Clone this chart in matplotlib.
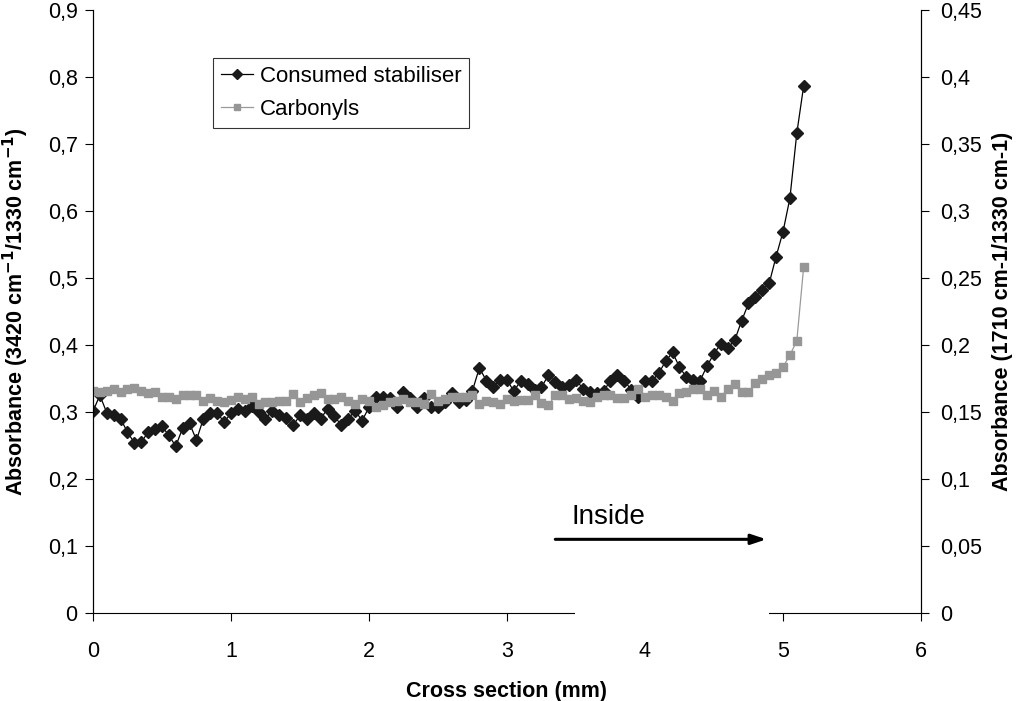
import numpy as np
import matplotlib
matplotlib.use("Agg")
import matplotlib.pyplot as plt
from matplotlib.patches import Rectangle
from matplotlib.ticker import FuncFormatter

plt.rcParams['font.family'] = ['Liberation Sans', 'DejaVu Sans']

# Consumed stabiliser (left axis), one value every 0.05 mm
stabiliser = [0.301, 0.325, 0.299, 0.295, 0.290, 0.270, 0.254, 0.255, 0.270, 0.274,
              0.279, 0.265, 0.249, 0.276, 0.283, 0.258, 0.290, 0.299, 0.299, 0.285,
              0.298, 0.305, 0.301, 0.309, 0.300, 0.290, 0.302, 0.295, 0.291, 0.280,
              0.295, 0.290, 0.298, 0.290, 0.305, 0.294, 0.280, 0.290, 0.302, 0.287,
              0.307, 0.323, 0.323, 0.321, 0.307, 0.330, 0.321, 0.307, 0.321, 0.307,
              0.307, 0.315, 0.328, 0.315, 0.318, 0.332, 0.366, 0.347, 0.337, 0.348,
              0.348, 0.331, 0.347, 0.342, 0.333, 0.337, 0.355, 0.345, 0.337, 0.340,
              0.348, 0.335, 0.330, 0.328, 0.332, 0.346, 0.356, 0.347, 0.333, 0.322,
              0.346, 0.346, 0.358, 0.376, 0.389, 0.367, 0.352, 0.348, 0.347, 0.369,
              0.387, 0.402, 0.396, 0.407, 0.436, 0.462, 0.471, 0.482, 0.492, 0.532,
              0.569, 0.619, 0.716, 0.787]

# Carbonyls (right axis)
carbonyls = [0.166, 0.165, 0.166, 0.1675, 0.165, 0.1675, 0.168, 0.166, 0.164, 0.165,
             0.1615, 0.1615, 0.160, 0.1625, 0.163, 0.1625, 0.1585, 0.1605, 0.158, 0.1575,
             0.159, 0.1615, 0.160,
             0.1615, 0.156, 0.1575, 0.1575, 0.1585, 0.1585, 0.1635, 0.1575, 0.1605, 0.1625,
             0.164, 0.160, 0.160, 0.1615, 0.1585, 0.156, 0.160, 0.1585, 0.1535, 0.155,
             0.1575, 0.1585,
             0.160, 0.1575, 0.1575, 0.156, 0.1635, 0.1585, 0.160, 0.1615, 0.1615, 0.1615,
             0.1625, 0.156, 0.1585, 0.1575, 0.156, 0.160, 0.158, 0.159, 0.159, 0.1625,
             0.1565, 0.155, 0.1625, 0.1625, 0.160,
             0.1605, 0.1585, 0.1575, 0.1615, 0.163, 0.1625, 0.1605, 0.1605, 0.163, 0.1675,
             0.1615, 0.1625, 0.1625, 0.161, 0.1585, 0.164, 0.165, 0.1675, 0.1675, 0.1625,
             0.166, 0.161, 0.1675,
             0.171, 0.165, 0.165, 0.1715, 0.175, 0.1775, 0.179, 0.1835, 0.1925, 0.203,
             0.2585]

step = 0.05
x_stab = np.round(np.arange(len(stabiliser)) * step, 2)
x_carb = np.round(np.arange(len(carbonyls)) * step, 2)

left_ticks = [0, 0.1, 0.2, 0.3, 0.4, 0.5, 0.6, 0.7, 0.8, 0.9]
right_ticks = [0, 0.05, 0.1, 0.15, 0.2, 0.25, 0.3, 0.35, 0.4, 0.45]
x_ticks = [0, 1, 2, 3, 4, 5, 6]


def comma(v, pos=None):
    s = ('%.2f' % v).rstrip('0').rstrip('.')
    return s.replace('.', ',')


fig = plt.figure(figsize=(10.17, 7.01), dpi=100)
ax = fig.add_axes([0.0914, 0.1255, 0.8142, 0.8602])
ax2 = ax.twinx()

l1, = ax.plot(x_stab, stabiliser, color='black', lw=0.9, marker='D',
              markersize=6, markerfacecolor='#1a1a1a', markeredgecolor='#1a1a1a',
              label='Consumed stabiliser')
l2, = ax2.plot(x_carb, carbonyls, color='#9a9a9a', lw=0.9, marker='s',
               markersize=6, markerfacecolor='#969696', markeredgecolor='#969696',
               label='Carbonyls')

ax.set_xlim(0, 6)
ax.set_ylim(0, 0.9)
ax2.set_ylim(0, 0.45)
ax.set_xticks(x_ticks)
ax.set_yticks(left_ticks)
ax2.set_yticks(right_ticks)
ax.xaxis.set_major_formatter(FuncFormatter(comma))
ax.yaxis.set_major_formatter(FuncFormatter(comma))
ax2.yaxis.set_major_formatter(FuncFormatter(comma))

for a in (ax, ax2):
    a.spines['top'].set_visible(False)
    a.tick_params(direction='out', length=6, width=0.8, labelsize=15.5)
ax.tick_params(axis='x', pad=14)
ax.tick_params(axis='y', pad=5)
ax2.tick_params(axis='y', pad=8)
ax2.spines['bottom'].set_visible(False)

ax.set_xlabel('Cross section (mm)', fontsize=15.5, fontweight='bold')
ax.set_ylabel('Absorbance (3420 cm$^{\\mathbf{-1}}$/1330 cm$^{\\mathbf{-1}}$)',
              fontsize=15.5, fontweight='bold')
ax2.set_ylabel('Absorbance (1710 cm-1/1330 cm-1)', fontsize=15.5, fontweight='bold')
ax.xaxis.set_label_coords(0.5, -0.113)
ax.yaxis.set_label_coords(-0.075, 0.5)
ax2.yaxis.set_label_coords(1.086, 0.5)

leg = ax2.legend(handles=[l1, l2], loc='upper left', bbox_to_anchor=(0.145, 0.92),
                 fontsize=16, frameon=True, fancybox=False, handlelength=1.45,
                 borderpad=0.35, labelspacing=0.55, handletextpad=0.3,
                 borderaxespad=0)
leg.get_frame().set_edgecolor('black')
leg.get_frame().set_linewidth(0.8)
for h in leg.legend_handles:
    h.set_markersize(5)

# "Inside" arrow
ax.annotate('', xy=(4.90, 0.110), xytext=(3.33, 0.110),
            arrowprops=dict(arrowstyle='-|>,head_length=0.9,head_width=0.3',
                            color='black', lw=2.2))
ax.text(3.47, 0.124, 'Inside', fontsize=20, ha='left', va='bottom')

# white patch that hides part of the bottom axis
ax2.add_patch(Rectangle((0.582, -0.016), 0.2345, 0.02, transform=ax2.transAxes,
                        facecolor='white', edgecolor='none', clip_on=False, zorder=10))

fig.savefig('out.png', dpi=100)
